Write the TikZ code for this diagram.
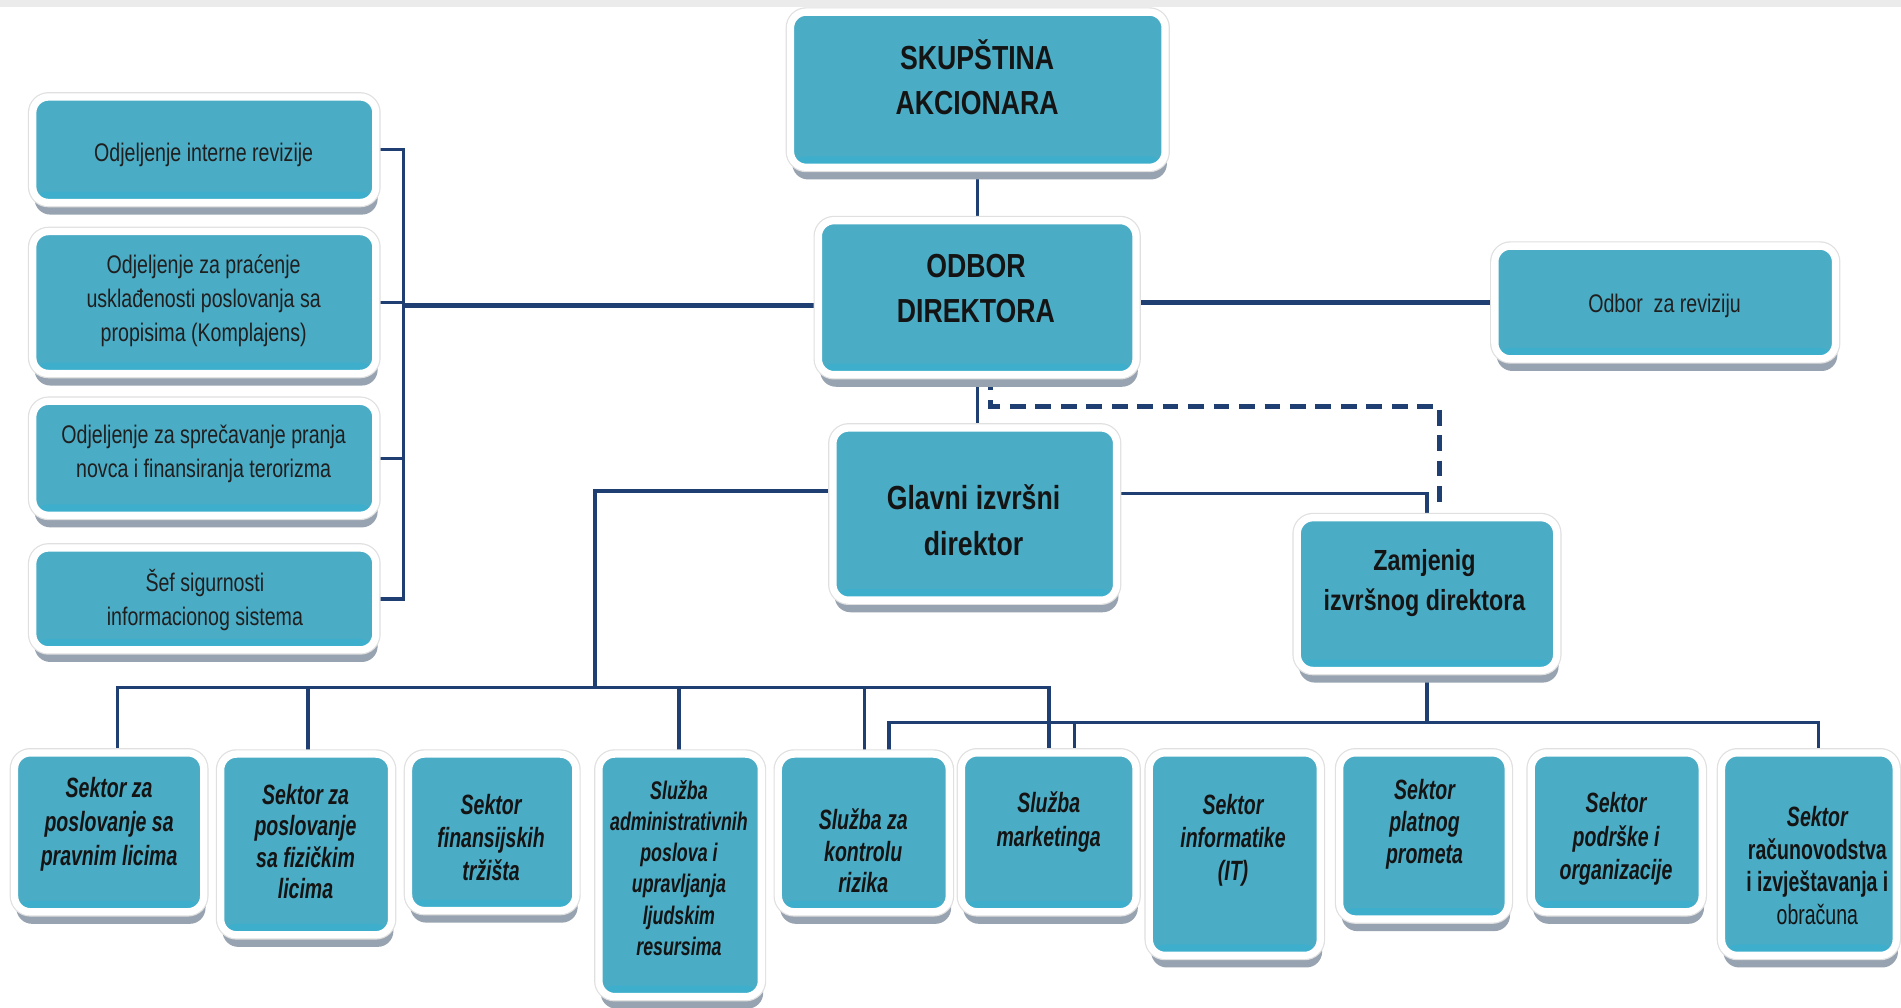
\documentclass[tikz,border=0pt]{standalone}
\usepackage{fontspec}
\setmainfont{Liberation Sans}
\newfontfamily\topfont[FakeStretch=0.8]{Liberation Sans}
\newfontfamily\leftfont[FakeStretch=0.77]{Liberation Sans}
\newfontfamily\botfont[FakeStretch=0.7]{Liberation Sans}
\usetikzlibrary{shadows,calc}
\definecolor{boxblue}{HTML}{4BACC6}
\definecolor{boxstrip}{HTML}{3DAFCC}
\definecolor{linenavy}{HTML}{1F3F72}
\definecolor{shadowgray}{HTML}{97A3B0}
\pgfdeclarelayer{back}
\pgfdeclarelayer{bg}
\pgfsetlayers{back,bg,main}
\tikzset{
  orgbox/.style={draw=white, line width=6pt, fill=boxblue, rounded corners=13pt,
    inner sep=0pt, outer sep=0pt,
    drop shadow={shadow xshift=1.5pt, shadow yshift=-10pt, fill=shadowgray, opacity=1},
    preaction={draw=black!12, line width=8pt},
    path picture={\fill[boxstrip] (path picture bounding box.south west) rectangle ($(path picture bounding box.south east)+(0pt,9pt)$);}},
  toptext/.style={align=center, inner sep=0pt, text=black!92,
    font=\topfont\bfseries\fontsize{27.5}{37}\selectfont},
  lefttext/.style={align=center, inner sep=0pt, text=black!88,
    font=\leftfont\fontsize{21}{28}\selectfont},
  bottext/.style={align=center, inner sep=0pt, text=black!92,
    font=\botfont\bfseries\itshape\fontsize{23}{27}\selectfont},
  conn/.style={draw=linenavy, line width=2.6pt},
  busline/.style={draw=linenavy, line width=3pt},
  heavy/.style={draw=linenavy, line width=4.5pt},
  dashline/.style={draw=linenavy, line width=4pt, dash pattern=on 13pt off 8pt}
}
\newcommand\orgnode[5]{\node[orgbox, minimum width={#4-#2+6}, minimum height={#5-#3+6}] (#1) at ({(#2+#4)/2},{(#3+#5)/2}) {};}
\begin{document}
\begin{tikzpicture}[x=1pt,y=-1pt]
\begin{pgfonlayer}{back}
  \fill[white] (0,0) rectangle (1568,830.6);
  \fill[black!8] (0,0) rectangle (1568,5.5);
\end{pgfonlayer}
\useasboundingbox (0,0) rectangle (1568,830.6);

% boxes
\orgnode{skup}{655}{13}{958}{135}
\orgnode{odbor}{678}{185}{934}{306}
\orgnode{glavni}{690}{356}{918}{492}
\orgnode{zam}{1073}{430}{1281}{550}
\orgnode{odrev}{1236}{206}{1511}{293}
\orgnode{Lone}{30}{83}{307}{164}
\orgnode{Ltwo}{30}{194}{307}{305}
\orgnode{Lthree}{30}{334}{307}{422}
\orgnode{Lfour}{30}{455}{307}{533}
\orgnode{Bone}{15}{624}{165}{749}
\orgnode{Btwo}{185}{625}{320}{768}
\orgnode{Bthree}{340}{625}{472}{748}
\orgnode{Bfour}{497}{625}{625}{819}
\orgnode{Bfive}{645}{625}{780}{749}
\orgnode{Bsix}{796}{624}{934}{749}
\orgnode{Bseven}{951}{624}{1086}{785}
\orgnode{Beight}{1108}{624}{1241}{755}
\orgnode{Bnine}{1266}{624}{1401}{749}
\orgnode{Bten}{1423}{624}{1561}{785}

% texts
\node[toptext] (skupt) at (806,64) {SKUPŠTINA\\AKCIONARA};
\node[toptext] (odbort) at (805,238) {ODBOR\\DIREKTORA};
\node[toptext, font=\topfont\bfseries\fontsize{27.5}{38}\selectfont] (glavnit) at (803,429) {Glavni izvršni\\direktor};
\node[toptext, font=\topfont\bfseries\fontsize{24}{33}\selectfont] (zamt) at (1175,481) {Zamjenig\\izvršnog direktora};
\node[lefttext] (odrevt) at (1373,252) {Odbor~ za reviziju};
\node[lefttext] (Lonet) at (168,128) {Odjeljenje interne revizije};
\node[lefttext] (Ltwot) at (168,248) {Odjeljenje za praćenje\\usklađenosti poslovanja sa\\propisima (Komplajens)};
\node[lefttext] (Lthreet) at (168,374) {Odjeljenje za sprečavanje pranja\\novca i finansiranja terorizma};
\node[lefttext] (Lfourt) at (169,495) {Šef sigurnosti\\informacionog sistema};

\node[bottext, font=\botfont\bfseries\itshape\fontsize{23}{28}\selectfont] (Bonet) at (90,680) {Sektor za\\poslovanje sa\\pravnim licima};
\node[bottext, font=\botfont\bfseries\itshape\fontsize{23}{26}\selectfont] (Btwot) at (252,694) {Sektor za\\poslovanje\\sa fizičkim\\licima};
\node[bottext] (Bthreet) at (405,691) {Sektor\\finansijskih\\tržišta};
\node[bottext, font=\botfont\bfseries\itshape\fontsize{21}{25.6}\selectfont] (Bfourt) at (560,716) {Služba\\administrativnih\\poslova i\\upravljanja\\ljudskim\\resursima};
\node[bottext, font=\botfont\bfseries\itshape\fontsize{23}{26}\selectfont] (Bfivet) at (712,702) {Služba za\\kontrolu\\rizika};
\node[bottext, font=\botfont\bfseries\itshape\fontsize{23}{28}\selectfont] (Bsixt) at (865,678) {Služba\\marketinga};
\node[bottext] (Bsevent) at (1017,693) {Sektor\\informatike\\(IT)};
\node[bottext, font=\botfont\bfseries\itshape\fontsize{23}{26.5}\selectfont] (Beightt) at (1175,680) {Sektor\\platnog\\prometa};
\node[bottext, font=\botfont\bfseries\itshape\fontsize{23}{27.5}\selectfont] (Bninet) at (1333,692) {Sektor\\podrške i\\organizacije};
\node[bottext, font=\botfont\bfseries\fontsize{23}{27}\selectfont] (Btent) at (1499,714) {{\itshape Sektor}\\računovodstva\\i izvještavanja i\\{\mdseries obračuna}};

% connector coordinates
\coordinate (brk) at (333,252);
\coordinate (busone) at (491,567);
\coordinate (dA) at (97,567);
\coordinate (dB) at (254,567);
\coordinate (dC) at (560,567);
\coordinate (dD) at (713,567);
\coordinate (dE) at (865,567);
\coordinate (eA) at (733,596);
\coordinate (eB) at (886,596);
\coordinate (eD) at (1500,596);
\coordinate (dashend) at (1187,415);

\begin{pgfonlayer}{bg}
  \draw[conn] (skup.south) -- (skup.south |- odbor.north);
  \draw[heavy] (odrev.west) -- (odrev.west -| odbor.east);
  \draw[heavy] (brk) -- (brk -| odbor.west);
  \draw[conn] (Lone.east) -- (Lone.east -| brk) |- (Lfour.east);
  \draw[conn] (Ltwo.east) -- (Ltwo.east -| brk);
  \draw[conn] (Lthree.east) -- (Lthree.east -| brk);
  \draw[conn] (odbor.south) -- (odbor.south |- glavni.north);
  \draw[dashline] ($(odbor.south)+(11,0)$) |- ($(dashend)+(0,-80)$) -- (dashend);
  \draw[busline] (zam.north) |- ($(glavni.east)+(0,-17)$);
  \draw[busline] (busone) |- ($(glavni.west)+(0,-19)$);
  \draw[busline] (dA |- Bone.north) -- (dA) -- (dE) -- (dE |- Bsix.north);
  \draw[conn] (dB) -- (dB |- Btwo.north);
  \draw[conn] (dC) -- (dC |- Bfour.north);
  \draw[conn] (dD) -- (dD |- Bfive.north);
  \draw[busline] (eA |- Bfive.north) -- (eA) -- (eD) -- (eD |- Bten.north);
  \draw[conn] (eB) -- (eB |- Bsix.north);
  \draw[conn] (zam.south) -- (zam.south |- eA);
\end{pgfonlayer}
\end{tikzpicture}
\end{document}
